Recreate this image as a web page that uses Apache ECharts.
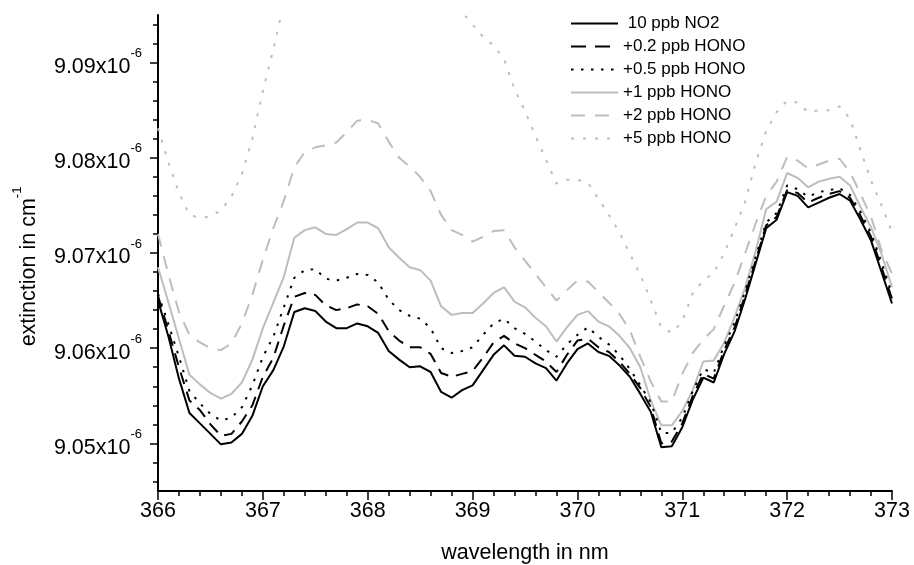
<!DOCTYPE html>
<html>
<head>
<meta charset="utf-8">
<script src="https://cdn.jsdelivr.net/npm/echarts@6/dist/echarts.min.js"></script>
<style>
html,body{margin:0;padding:0;background:#fff;}
#chart{width:914px;height:565px;}
</style>
</head>
<body>
<div id="chart"></div>
<script>
// wavelength in nm
const wavelength = [366.0,366.1,366.2,366.3,366.4,366.5,366.6,366.7,366.8,366.9,
367.0,367.1,367.2,367.3,367.4,367.5,367.6,367.7,367.8,367.9,
368.0,368.1,368.2,368.3,368.4,368.5,368.6,368.7,368.8,368.9,
369.0,369.1,369.2,369.3,369.4,369.5,369.6,369.7,369.8,369.9,
370.0,370.1,370.2,370.3,370.4,370.5,370.6,370.7,370.8,370.9,
371.0,371.1,371.2,371.3,371.4,371.5,371.6,371.7,371.8,371.9,
372.0,372.1,372.2,372.3,372.4,372.5,372.6,372.7,372.8,372.9,373.0];

// extinction values in units of 1e-6 cm^-1
const no2_10ppb = [9.0650,9.0612,9.0568,9.0532,9.0521,9.0510,9.0499,9.0501,9.0510,9.0529,
9.0560,9.0577,9.0602,9.0638,9.0642,9.0639,9.0628,9.0621,9.0621,9.0626,
9.0623,9.0616,9.0597,9.0588,9.0580,9.0581,9.0575,9.0554,9.0548,9.0556,
9.0561,9.0577,9.0593,9.0603,9.0592,9.0591,9.0584,9.0579,9.0566,9.0584,
9.0599,9.0605,9.0596,9.0592,9.0582,9.0570,9.0552,9.0533,9.0496,9.0497,
9.0517,9.0546,9.0569,9.0564,9.0594,9.0618,9.0652,9.0689,9.0726,9.0735,
9.0764,9.0760,9.0748,9.0753,9.0758,9.0762,9.0755,9.0735,9.0713,9.0680,9.0647];

const hono_02 = [9.0655,9.0618,9.0580,9.0545,9.0535,9.0520,9.0508,9.0510,9.0523,9.0540,
9.0570,9.0590,9.0624,9.0654,9.0658,9.0656,9.0645,9.0640,9.0642,9.0646,
9.0644,9.0636,9.0618,9.0608,9.0601,9.0601,9.0594,9.0574,9.0570,9.0573,
9.0576,9.0590,9.0606,9.0613,9.0605,9.0600,9.0593,9.0586,9.0575,9.0593,
9.0608,9.0610,9.0601,9.0596,9.0586,9.0573,9.0558,9.0538,9.0500,9.0502,
9.0521,9.0550,9.0573,9.0568,9.0598,9.0622,9.0656,9.0692,9.0729,9.0738,
9.0766,9.0763,9.0753,9.0758,9.0762,9.0765,9.0758,9.0739,9.0717,9.0685,9.0652];

const hono_05 = [9.0657,9.0625,9.0591,9.0555,9.0542,9.0531,9.0524,9.0527,9.0538,9.0561,
9.0591,9.0612,9.0643,9.0674,9.0682,9.0683,9.0673,9.0671,9.0674,9.0678,
9.0677,9.0669,9.0651,9.0640,9.0634,9.0631,9.0621,9.0600,9.0595,9.0597,
9.0601,9.0614,9.0626,9.0631,9.0621,9.0615,9.0607,9.0598,9.0591,9.0604,
9.0614,9.0622,9.0612,9.0604,9.0593,9.0578,9.0561,9.0543,9.0511,9.0511,
9.0527,9.0555,9.0578,9.0574,9.0603,9.0627,9.0660,9.0696,9.0732,9.0742,
9.0771,9.0767,9.0759,9.0764,9.0766,9.0768,9.0761,9.0743,9.0721,9.0690,9.0657];

const hono_1 = [9.0685,9.0648,9.0610,9.0572,9.0562,9.0553,9.0547,9.0552,9.0564,9.0588,
9.0621,9.0648,9.0675,9.0716,9.0724,9.0727,9.0720,9.0719,9.0725,9.0732,
9.0732,9.0726,9.0706,9.0695,9.0685,9.0682,9.0671,9.0644,9.0635,9.0637,
9.0637,9.0647,9.0658,9.0664,9.0649,9.0643,9.0632,9.0623,9.0607,9.0622,
9.0635,9.0639,9.0628,9.0623,9.0613,9.0600,9.0580,9.0545,9.0519,9.0519,
9.0534,9.0556,9.0586,9.0587,9.0606,9.0633,9.0664,9.0702,9.0746,9.0754,
9.0784,9.0779,9.0769,9.0775,9.0778,9.0780,9.0771,9.0748,9.0727,9.0699,9.0664];

const hono_2 = [9.0720,9.0677,9.0638,9.0614,9.0606,9.0600,9.0598,9.0605,9.0626,9.0656,
9.0693,9.0726,9.0755,9.0790,9.0806,9.0811,9.0813,9.0816,9.0827,9.0839,
9.0840,9.0836,9.0817,9.0800,9.0791,9.0780,9.0765,9.0740,9.0724,9.0719,
9.0712,9.0717,9.0723,9.0724,9.0706,9.0692,9.0678,9.0664,9.0650,9.0661,
9.0671,9.0670,9.0659,9.0648,9.0636,9.0619,9.0591,9.0565,9.0544,9.0544,
9.0573,9.0595,9.0609,9.0620,9.0645,9.0669,9.0700,9.0731,9.0760,9.0775,
9.0801,9.0797,9.0789,9.0793,9.0797,9.0799,9.0785,9.0762,9.0738,9.0703,9.0678];

const hono_5 = [9.0831,9.0795,9.0763,9.0740,9.0737,9.0738,9.0745,9.0759,9.0783,9.0820,
9.0870,9.0914,9.0962,9.0995,9.1015,9.1025,9.1028,9.1030,9.1035,9.1040,
9.1040,9.1035,9.1020,9.1005,9.0995,9.0985,9.0975,9.0968,9.0960,9.0953,
9.0940,9.0927,9.0918,9.0904,9.0872,9.0849,9.0823,9.0798,9.0773,9.0777,
9.0777,9.0774,9.0757,9.0740,9.0722,9.0699,9.0677,9.0650,9.0622,9.0616,
9.0628,9.0658,9.0671,9.0679,9.0700,9.0726,9.0754,9.0795,9.0828,9.0848,
9.0860,9.0858,9.0848,9.0850,9.0850,9.0854,9.0841,9.0808,9.0776,9.0750,9.0722];

const seriesNames = ['10 ppb NO2','+0.2 ppb HONO','+0.5 ppb HONO','+1 ppb HONO','+2 ppb HONO','+5 ppb HONO'];
const seriesValues = [no2_10ppb, hono_02, hono_05, hono_1, hono_2, hono_5];

const yMajorTicks = [9.05, 9.06, 9.07, 9.08, 9.09];
const yMinorTicks = [9.046,9.048,9.050,9.052,9.054,9.056,9.058,9.060,9.062,9.064,9.066,9.068,9.070,
9.072,9.074,9.076,9.078,9.080,9.082,9.084,9.086,9.088,9.090,9.092,9.094];

const FONT = '"Liberation Sans", Arial, sans-serif';
const FS = 21.5;
const BLACK = '#000000';
const GRAY = '#bdbdbd';
const styles = [
  {color: BLACK, type: 'solid', legendType: 'solid'},
  {color: BLACK, type: [12, 8], legendType: [15, 9]},
  {color: BLACK, type: [2.5, 7.5], legendType: [2.5, 7.5]},
  {color: GRAY, type: 'solid', legendType: 'solid'},
  {color: GRAY, type: [13, 10], legendType: [14, 10]},
  {color: GRAY, type: [3, 9], legendType: [3, 9]}
];
const zs = [8, 7, 6, 5, 4, 3];

const chart = echarts.init(document.getElementById('chart'), null, {renderer: 'canvas'});

const supRich = {
  a: {fontSize: FS, fontFamily: FONT, color: '#000', padding: [9, 0, 0, 0]},
  b: {fontSize: 13, fontFamily: FONT, color: '#000', verticalAlign: 'top'}
};

const option = {
  animation: false,
  backgroundColor: '#fff',
  grid: {left: 158, right: 22, top: 15, bottom: 74, containLabel: false, outerBoundsMode: 'none'},
  legend: {
    orient: 'vertical',
    left: 570,
    top: 15,
    padding: 0,
    itemWidth: 47,
    itemHeight: 14,
    itemGap: 6,
    data: seriesNames.map(function (n, k) {
      return {name: n, lineStyle: {type: styles[k].legendType, color: styles[k].color, width: 2}};
    }),
    itemStyle: {opacity: 0},
    formatter: function (n) { return n === '10 ppb NO2' ? ' ' + n : n; },
    textStyle: {fontSize: 17, fontFamily: FONT, color: '#000'}
  },
  xAxis: {
    type: 'value',
    min: 366, max: 373, interval: 1,
    name: 'wavelength in nm',
    nameLocation: 'middle',
    nameGap: 51,
    nameTextStyle: {fontSize: FS, fontFamily: FONT, color: '#000'},
    axisLine: {show: true, onZero: false, lineStyle: {color: '#000', width: 2}},
    axisTick: {show: true, length: 9, lineStyle: {color: '#000', width: 1.5}},
    minorTick: {show: true, splitNumber: 5, length: 5, lineStyle: {color: '#000', width: 1.5}},
    splitLine: {show: false},
    minorSplitLine: {show: false},
    axisLabel: {fontSize: FS, fontFamily: FONT, color: '#000', margin: 9}
  },
  yAxis: [{
    type: 'value',
    min: 9.045, max: 9.095,
    position: 'left',
    name: '{a|extinction in cm}{b|-1}',
    nameLocation: 'middle',
    nameRotate: 90,
    nameGap: 118,
    nameTextStyle: {rich: {
      a: {fontSize: FS, fontFamily: FONT, color: '#000', padding: [7, 0, 0, 0]},
      b: {fontSize: 13, fontFamily: FONT, color: '#000', verticalAlign: 'top'}
    }, padding: [0, 27, 0, 0]},
    axisLine: {show: true, onZero: false, lineStyle: {color: '#000', width: 2}},
    axisTick: {show: true, length: 8, customValues: yMajorTicks, lineStyle: {color: '#000', width: 1.5}},
    splitLine: {show: false},
    axisLabel: {
      customValues: yMajorTicks,
      margin: 16,
      formatter: function (v) { return '{a|' + v.toFixed(2) + 'x10}{b|-6}'; },
      rich: supRich
    }
  }, {
    type: 'value',
    min: 9.045, max: 9.095,
    position: 'left',
    offset: 0,
    axisLine: {show: false},
    axisTick: {show: true, length: 5, customValues: yMinorTicks, lineStyle: {color: '#000', width: 1.5}},
    axisLabel: {show: false},
    splitLine: {show: false}
  }],
  series: seriesNames.map(function (name, k) {
    return {
      name: name,
      type: 'line',
      yAxisIndex: 0,
      z: zs[k],
      symbol: 'none',
      showSymbol: false,
      clip: true,
      smooth: false,
      lineStyle: {color: styles[k].color, width: 2, type: styles[k].type},
      itemStyle: {color: styles[k].color},
      data: wavelength.map(function (w, i) { return [w, seriesValues[k][i]]; })
    };
  })
};

chart.setOption(option);
</script>
</body>
</html>
